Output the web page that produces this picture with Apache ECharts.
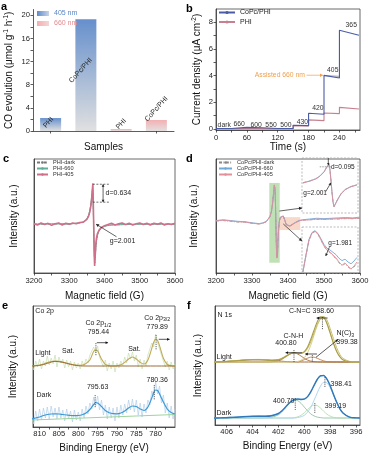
<!DOCTYPE html>
<html><head><meta charset="utf-8">
<script src="https://cdn.jsdelivr.net/npm/echarts@6.0.0/dist/echarts.min.js"></script>
<style>html,body{margin:0;padding:0;background:#fff;}#chart{width:371px;height:457px;}</style>
</head><body><div id="chart"></div>
<script>
// ===== Panel a =====
const aCategories = ['PHI-405', 'CoPc/PHI-405', 'PHI-660', 'CoPc/PHI-660'];
const aBarLabels = ['PHI', 'CoPc/PHI', 'PHI', 'CoPc/PHI'];
const aCO405 = [2.24, 19.3, null, null];
const aCO660 = [null, null, 0.35, 1.9];
const aYTicks = [0, 4, 8, 12, 16, 20];

// ===== Panel b =====
const bCoPcPHI = [[0,0.03],[30,0.03],[30,0.15],[60,0.12],[60,0.12],[90,0.09],[90,0.04],[120,0.03],[150,0.03],[150,0.28],[180,0.25],[180,1.18],[210,1.1],[210,4.02],[240,3.82],[240,7.4],[278,7.03]];
const bPHI = [[0,0.01],[30,0.01],[30,0.05],[60,0.04],[90,0.03],[120,0.02],[150,0.02],[150,0.25],[180,0.22],[180,0.68],[210,0.62],[210,1.2],[240,1.15],[240,1.62],[278,1.5]];
const bAssisted = [[210,4.0],[240,3.95]];
const bXTicks = [0, 60, 120, 180, 240];
const bYTicks = [0, 2, 4, 6, 8];
const bStepLabels = ['dark','660','600','550','500','430','420','405','365'];
const bStepLabelT = [16, 45, 78, 107, 136, 168, 198, 227, 263];
const bStepLabelY = [0.3, 0.37, 0.32, 0.26, 0.3, 0.54, 1.56, 4.44, 7.78];

// ===== Panel c =====
const cField405 = [3200,3210,3220,3230,3240,3250,3260,3270,3280,3290,3300,3310,3320,3330,3340,
  3345,3350,3355,3358,3361,3363,3365,3366,3367,3368,3369,3370,3371,3372,3373,3374,3375,3377,3380,3385,3390,3395,3400,
  3410,3420,3430,3440,3450,3460,3470,3480,3490,3500,3510,3520,3530,3540,3550,3560,3570,3580,3590,3600];
const cInt405 = [0.01,-0.02,0.03,-0.01,0.02,-0.03,0.01,0.03,-0.02,0.02,0.0,0.03,0.01,0.04,0.05,
  0.08,0.12,0.2,0.29,0.43,0.58,0.78,0.9,1.0,0.62,0.15,-0.35,-0.8,-1.03,-1.0,-0.72,-0.52,-0.35,-0.23,-0.14,-0.09,-0.06,-0.04,
  -0.01,0.02,-0.02,0.01,0.03,-0.01,0.02,-0.02,0.01,0.03,-0.01,0.02,-0.02,0.02,0.0,0.03,-0.02,0.01,-0.01,0.02];
const cField660 = [3200,3250,3300,3330,3340,3350,3355,3358,3361,3363,3365,3366,3367,3368,3369,3370,3371,3372,3373,3374,3375,3377,3380,3384,3390,3400,3420,3500,3600];
const cInt660 = [0.0,0.01,0.0,0.03,0.05,0.13,0.22,0.33,0.48,0.62,0.78,0.88,0.82,0.45,0.05,-0.35,-0.7,-0.88,-0.92,-0.8,-0.62,-0.43,-0.28,-0.17,-0.1,-0.05,-0.02,0.0,0.0];
const cIntDark = [0.0,0.0,0.01,0.03,0.05,0.12,0.21,0.31,0.45,0.6,0.76,0.86,0.85,0.5,0.08,-0.3,-0.68,-0.9,-0.95,-0.82,-0.63,-0.44,-0.29,-0.18,-0.11,-0.05,-0.02,0.0,0.0];
const epTicks = [3200, 3300, 3400, 3500, 3600];

// ===== Panel d =====
const dField = [3200,3220,3240,3260,3280,3300,3320,3330,3340,3345,3350,3354,3357,3360,3362,3363,3364,3365,3366,3367,3368,3369,3370,3371,3372,3374,3376,3379,3383,3387,3391,3395,3400,3405,3410,3420,3430,3440,3460,3480,3500,3520,3540,3560,3580,3600];
const dInt405 = [0.0,0.02,0.0,-0.02,-0.03,-0.06,-0.08,-0.06,-0.02,0.03,0.12,0.25,0.45,0.75,0.95,1.0,0.85,0.55,0.1,-0.35,-0.75,-0.98,-1.03,-0.85,-0.55,-0.2,0.0,0.1,0.14,0.13,0.02,-0.1,-0.15,-0.14,-0.1,-0.05,0.0,0.02,0.03,0.05,0.04,0.05,0.06,0.07,0.06,0.08];
const dInt660 = [0.01,0.03,0.01,-0.01,-0.02,-0.05,-0.07,-0.05,-0.01,0.04,0.12,0.25,0.45,0.74,0.94,0.99,0.84,0.55,0.1,-0.35,-0.74,-0.97,-1.02,-0.84,-0.55,-0.2,0.0,0.1,0.14,0.13,0.03,-0.09,-0.14,-0.13,-0.09,-0.04,0.01,0.03,0.05,0.07,0.06,0.07,0.08,0.09,0.08,0.1];
const dIntDark = [0.0,0.01,-0.01,-0.03,-0.03,-0.06,-0.08,-0.06,-0.02,0.03,0.11,0.24,0.44,0.73,0.93,0.98,0.83,0.53,0.1,-0.34,-0.73,-0.96,-1.01,-0.83,-0.54,-0.2,0.0,0.09,0.13,0.12,0.02,-0.1,-0.15,-0.14,-0.1,-0.05,0.0,0.02,0.03,0.04,0.04,0.05,0.05,0.06,0.06,0.07];
const dUpField = [3341,3348.6,3355,3359.3,3363.6,3366.8,3369,3370,3371,3372.1,3373.2,3374.3,3376.4,3378.6,3381.8,3386,3391.4,3399];
const dUp405 = [0.545,0.58,0.62,0.67,0.745,0.84,0.89,0.78,0.6,0.38,0.2,0.11,0.145,0.255,0.345,0.42,0.47,0.51];
const dUp660 = [0.55,0.585,0.625,0.675,0.75,0.845,0.885,0.775,0.6,0.385,0.21,0.12,0.15,0.26,0.35,0.425,0.475,0.515];
const dLoField = [3381,3384.3,3387.5,3390.7,3393.9,3397.1,3400.4,3403.6,3406.8,3410,3413.2,3416.4,3419.6,3422.9,3426.1,3429.3,3432.5,3435.7,3438.9];
const dLo405 = [0.02,0.39,0.72,0.87,0.91,0.85,0.72,0.59,0.5,0.46,0.39,0.33,0.24,0.17,0.22,0.15,0.09,0.15,0.24];
const dLo660 = [0.03,0.4,0.73,0.88,0.92,0.86,0.74,0.62,0.54,0.5,0.45,0.4,0.32,0.27,0.3,0.24,0.2,0.26,0.34];
const dLoDark = [0.02,0.38,0.7,0.86,0.9,0.84,0.71,0.58,0.49,0.44,0.37,0.31,0.22,0.16,0.2,0.13,0.08,0.13,0.2];

// ===== Panel e (Co 2p) =====
const eFitBE = [812,811,810,809,808,807,806,805,804,803,802,801,800,799,798,797,796,795.5,795,794,793,792,791,790,789,788,787,786,785,784,783,782,781,780.5,780,779.5,779,778,777,776,775];
const eLightFit = [61.2,61.5,62,63,64.5,65.5,66,65.8,65,64,63,62.2,61.8,62,63.5,67,75.8,77,76.2,67.9,62.6,61.3,61,61.2,62.2,64.6,68,70,68,64.6,63,67,78.7,84.8,88,86.5,81.4,68.7,62.5,61.2,61];
const eDarkFit = [8,9,10,11.5,12.5,13,13.2,13,12.5,12,11.5,11.3,11.5,12.3,14,17.5,22.5,24.5,24,20.5,16.5,14.2,13.3,13.2,14,16,19,21,20.5,18,16.5,20,29,34.5,37,36.5,33,25,18,14.5,13];
const eRawBE = [812,811.5,811,810.5,810,809.5,809,808.5,808,807.5,807,806.5,806,805.5,805,804.5,804,803.5,803,802.5,802,801.5,801,800.5,800,799.5,799,798.5,798,797.5,797,796.5,796,795.5,795,794.5,794,793.5,793,792.5,792,791.5,791,790.5,790,789.5,789,788.5,788,787.5,787,786.5,786,785.5,785,784.5,784,783.5,783,782.5,782,781.5,781,780.5,780,779.5,779,778.5,778,777.5,777,776.5,776,775.5,775];
const eLightRaw = [63,57,66,60,68,58,66,61,71,62, 69,63,72,60,70,64,68,59,67,60, 66,57,65,59,64,58,66,61,68,64, 72,71,80,74,81,70,72,60,67,56, 64,58,66,55,64,59,66,61,70,64, 74,68,75,66,72,60,68,58,67,61, 72,70,84,80,93,84,86,72,73,60, 66,57,65,58,63];
const eDarkRaw = [12,3,16,6,18,7,19,9,20,8, 21,10,19,8,20,9,17,6,18,8, 16,5,17,7,15,6,18,9,21,13, 24,18,30,21,31,17,27,12,22,8, 20,9,19,6,20,9,22,12,23,14, 27,17,28,15,27,12,24,10,23,14, 27,22,36,31,45,33,41,24,32,14, 24,9,21,8,18];
const eLightBg = [[812,61],[810,61.6],[808,63.6],[806,65.6],[804,64.6],[802,62.6],[800,61.3],[798,61],[775,61]];
const eDarkBg = [[812,7],[775,12.5]];
const eTicks = [810, 805, 800, 795, 790, 785, 780];

// ===== Panel f (N 1s) =====
const fBE = [407,406.5,406,405.5,405,404.5,404,403.5,403,402.5,402,401.75,401.5,401.25,401,400.75,400.5,400.25,400,399.75,399.5,399.25,399,398.75,398.5,398.25,398,397.75,397.5,397.25,397,396.5,396,395.7];
const fLightCNC = [63,63,63,63,63,63,63,63,63,63,63,63,63,63,63,63,63.6,64.8,67.3,72.2,79.9,89.7,99.4,105.8,106.5,101.1,91.7,81.7,73.5,68.1,65.1,63.2,63,63];
const fLightNC3 = [63,63,63,63,63,63,63,63,63,63,63,63,63,63,63,63,63,64.1,65.3,66.8,67.9,67.8,66.7,65.3,64.1,63.4,63.1,63,63,63,63,63,63,63];
const fLightCNH = [63,63,63,63,63,63,63,63,63,63.2,64.2,65.6,67.6,69.8,71.5,72,70.9,68.9,66.7,64.9,63.9,63.3,63.1,63,63,63,63,63,63,63,63,63,63,63];
const fLightEnv = [63,63.2,63.5,64,64.5,65,65.2,65.2,65,64.7,65.2,66.3,68.1,70.1,71.7,72,71.5,71.8,73.3,77.9,85.7,94.8,103.2,108.1,107.6,101.5,91.8,81.7,73.5,68.1,65.1,63.2,63,63];
const fLightRaw = [63.5,63.3,63.8,64.2,64.8,65.3,65.5,65.6,65.3,65,65.6,66.8,68.6,70.5,72,72.3,71.6,71.5,72.6,76.4,83.2,92,100.6,106.4,108.5,105,96.3,86.4,77.2,70.5,66.5,63.6,63.1,63];
const fLightBg = [[407,63],[406,63.5],[405,64.5],[404,65.2],[403.5,65.2],[403,65],[402,64],[401,63.2],[400,63],[395.7,63]];
const fDarkMain = [7,7,7,7,7,7,7,7,7,7,7,7,7,7,7,7,7.5,8.2,9.7,12.8,17.7,24.6,32.2,39,42.7,42.1,37.3,30,22.5,16.1,11.8,7.9,7.1,7];
const fDark399 = [7,7,7,7,7,7,7,7,7,7,7,7,7,7,7,7.4,8.2,9.7,12.2,15.4,18.4,19.9,19.4,16.9,13.7,10.8,8.8,7.7,7.2,7,7,7,7,7];
const fDark400 = [7,7,7,7,7,7,7,7,7.1,7.7,10.2,12.8,16.4,20.2,23.4,24.9,24.3,21.6,17.9,14.2,11.1,9.1,7.9,7.4,7,7,7,7,7,7,7,7,7,7];
const fDarkEnv = [7,7.1,7.3,7.6,8,8.4,8.7,8.8,8.8,9.3,11.5,13.9,17.3,20.8,23.8,25.5,26,25.5,25.8,28.4,33.2,39.6,45.5,49.3,49.4,45.9,39.1,30.7,22.7,16.1,11.8,7.9,7.1,7];
const fDarkRaw = [7.3,7.0,7.6,7.9,8.2,8.8,8.6,9.1,8.9,9.8,11.2,14.3,17.0,21.3,23.5,25.9,25.6,25.9,26.4,28.0,33.8,39.2,46.1,48.8,49.9,45.4,39.6,30.2,23.1,15.8,12.2,7.6,7.3,7.1];
const fTicks = [406, 404, 402, 400, 398, 396];

// ================= chart =================
const FONT = 'Liberation Sans, Arial, Helvetica, sans-serif';
const chart = echarts.init(document.getElementById('chart'), null, {renderer: 'canvas'});
const zip = (xs, ys) => xs.map((x, i) => [x, ys[i]]);
const AX = {color: '#333', width: 0.8};
const NAME_FS = 10;
const TICK_FS = 7.6;
const SUPSUB = {
  sup: {fontSize: 6.5, padding: [0, 0, 5, 0], fontFamily: FONT, color: '#111'},
  sub: {fontSize: 5.2, padding: [4, 0, 0, 0], fontFamily: FONT, color: '#222'}
};
const FRAME = {show: true, borderColor: '#444', borderWidth: 0.8, backgroundColor: 'transparent'};

const grids = [
  {left: 33, top: 9.5, width: 141, height: 121.5},
  Object.assign({left: 216, top: 9, width: 144, height: 121}, FRAME),
  Object.assign({left: 34, top: 159, width: 141, height: 114}, FRAME),
  Object.assign({left: 216, top: 159, width: 144, height: 114}, FRAME),
  {left: 302, top: 158, width: 56, height: 55},
  {left: 302, top: 227, width: 56, height: 46},
  Object.assign({left: 33, top: 306, width: 142, height: 121}, FRAME),
  Object.assign({left: 215, top: 306, width: 145, height: 119}, FRAME)
].map(g => Object.assign({containLabel: false, outerBoundsMode: 'none'}, g));

function nameStyle() { return {fontSize: NAME_FS, color: '#111', fontFamily: FONT, rich: SUPSUB}; }
const plain = v => String(v);
function xValue(gi, o) {
  return {
    type: 'value', gridIndex: gi, min: o.min, max: o.max, inverse: !!o.inverse,
    name: o.name, nameLocation: 'middle', nameGap: o.nameGap, nameTextStyle: nameStyle(),
    axisLine: {show: true, onZero: false, lineStyle: AX},
    axisTick: {show: true, length: 2.5, inside: false, lineStyle: AX, customValues: o.tickValues},
    minorTick: {show: false},
    axisLabel: {show: true, fontSize: TICK_FS, color: '#222', margin: o.margin || 3, fontFamily: FONT, customValues: o.labelValues, formatter: plain},
    splitLine: {show: false}
  };
}
function yBlank(gi, o) {
  return {
    type: 'value', gridIndex: gi, min: o.min, max: o.max,
    name: o.name, nameLocation: 'middle', nameGap: o.nameGap, nameTextStyle: nameStyle(),
    axisLine: {show: true, onZero: false, lineStyle: AX},
    axisTick: {show: false}, axisLabel: {show: false}, splitLine: {show: false}
  };
}
function hidden(gi, o) { return Object.assign({type: 'value', gridIndex: gi, show: false, splitLine: {show: false}}, o); }

const xAxes = [
  {type: 'category', gridIndex: 0, data: aCategories, name: 'Samples', nameLocation: 'middle', nameGap: 11,
   nameTextStyle: nameStyle(), axisLine: {show: true, lineStyle: AX},
   axisTick: {show: true, alignWithLabel: true, length: 2.5, lineStyle: AX}, axisLabel: {show: false}},
  xValue(1, {min: 0, max: 280, name: 'Time (s)', nameGap: 12, labelValues: bXTicks, tickValues: [0,30,60,90,120,150,180,210,240,270], margin: 3.5}),
  xValue(2, {min: 3200, max: 3600, name: 'Magnetic field (G)', nameGap: 18, labelValues: epTicks, tickValues: [3200,3250,3300,3350,3400,3450,3500,3550,3600], margin: 4}),
  xValue(3, {min: 3200, max: 3600, name: 'Magnetic field (G)', nameGap: 18, labelValues: epTicks, tickValues: [3200,3250,3300,3350,3400,3450,3500,3550,3600], margin: 4}),
  hidden(4, {min: 3340, max: 3400}),
  hidden(5, {min: 3380, max: 3440}),
  xValue(6, {min: 775, max: 811.7, inverse: true, name: 'Binding Energy (eV)', nameGap: 16, labelValues: eTicks, tickValues: [810,807.5,805,802.5,800,797.5,795,792.5,790,787.5,785,782.5,780,777.5], margin: 2.5}),
  xValue(7, {min: 395.7, max: 406.9, inverse: true, name: 'Binding Energy (eV)', nameGap: 16, labelValues: fTicks, tickValues: [406,405,404,403,402,401,400,399,398,397,396], margin: 3})
];
const yAxes = [
  {type: 'value', gridIndex: 0, min: 0, max: 21, name: 'CO evolution (μmol g{sup|-1} h{sup|-1})', nameLocation: 'middle', nameGap: 18,
   nameTextStyle: nameStyle(), axisLine: {show: true, lineStyle: AX},
   axisTick: {show: true, length: 2.5, lineStyle: AX, customValues: [0,2,4,6,8,10,12,14,16,18,20]},
   axisLabel: {fontSize: TICK_FS, color: '#222', margin: 3, fontFamily: FONT, customValues: aYTicks, formatter: plain}, splitLine: {show: false}},
  {type: 'value', gridIndex: 1, min: -0.08, max: 9, name: 'Current density (μA cm{sup|-2})', nameLocation: 'middle', nameGap: 13,
   nameTextStyle: nameStyle(), axisLine: {show: true, onZero: false, lineStyle: AX},
   axisTick: {show: true, length: 2.5, lineStyle: AX, customValues: [0,1,2,3,4,5,6,7,8]},
   axisLabel: {fontSize: TICK_FS, color: '#222', margin: 3, fontFamily: FONT, customValues: bYTicks, formatter: plain}, splitLine: {show: false}},
  yBlank(2, {min: -1.2, max: 1.6, name: 'Intensity (a.u.)', nameGap: 15}),
  yBlank(3, {min: -1.37, max: 1.63, name: 'Intensity (a.u.)', nameGap: 17}),
  hidden(4, {min: 0, max: 1}),
  hidden(5, {min: 0, max: 1}),
  yBlank(6, {min: 0, max: 121, name: 'Intensity (a.u.)', nameGap: 15}),
  yBlank(7, {min: 0, max: 119, name: 'Intensity (a.u.)', nameGap: 12})
];

function line(name, gi, data, color, width, extra) {
  return Object.assign({type: 'line', name, xAxisIndex: gi, yAxisIndex: gi, data, symbol: 'none', showSymbol: false,
    silent: true, lineStyle: {color, width}, itemStyle: {color}}, extra || {});
}
const gradBlue = new echarts.graphic.LinearGradient(0, 0, 0, 1, [{offset: 0, color: '#6690cc'}, {offset: 1, color: '#e0e0e0'}]);
const gradPink = new echarts.graphic.LinearGradient(0, 0, 0, 1, [{offset: 0, color: '#f3b0b2'}, {offset: 1, color: '#e4e0e0'}]);
const aLabelStyle = [
  {position: 'inside', offset: [0, -3]},
  {position: 'inside', offset: [0, -7]},
  {position: 'top', distance: 5},
  {position: 'top', distance: 11}
];
function barData(vals) {
  return vals.map((v, i) => v == null ? '-' : {value: v, label: Object.assign({show: true, formatter: aBarLabels[i], rotate: 48,
    fontSize: 7, color: '#222', fontFamily: FONT, align: 'center', verticalAlign: 'middle'}, aLabelStyle[i])});
}
const dash = [3, 1.5, 0.8, 1.5];
const series = [
  {type: 'bar', name: '405 nm', xAxisIndex: 0, yAxisIndex: 0, data: barData(aCO405), barWidth: 21, barGap: '-100%', itemStyle: {color: gradBlue}, silent: true},
  {type: 'bar', name: '660 nm', xAxisIndex: 0, yAxisIndex: 0, data: barData(aCO660), barWidth: 21, barGap: '-100%', itemStyle: {color: gradPink}, silent: true},
  line('PHI', 1, bPHI, '#c7808f', 1.1),
  line('assisted', 1, bAssisted, '#777', 0.7),
  line('CoPc/PHI', 1, bCoPcPHI, '#4a5ca6', 1.1),
  line('PHI-dark', 2, zip(cField660, cIntDark), '#777', 0.8, {lineStyle: {color: '#777', width: 0.8, type: dash}}),
  line('PHI-660', 2, zip(cField660, cInt660), '#5fae99', 1),
  line('PHI-405', 2, zip(cField405, cInt405), '#cf6f89', 1.6),
  line('CoPc/PHI-dark', 3, zip(dField, dIntDark), '#888', 0.8, {lineStyle: {color: '#888', width: 0.8, type: dash},
    markArea: {silent: true, data: [
      [{xAxis: 3348, yAxis: 1.0, itemStyle: {color: 'rgba(140,200,120,0.55)'}}, {xAxis: 3377, yAxis: -1.1}],
      [{xAxis: 3376, yAxis: 0.1, itemStyle: {color: 'rgba(242,190,165,0.6)'}}, {xAxis: 3434, yAxis: -0.24}]
    ]}}),
  line('CoPc/PHI-660', 3, zip(dField, dInt660), '#6fa9dc', 0.9),
  line('CoPc/PHI-405', 3, zip(dField, dInt405), '#e2909a', 0.9),
  line('up-dark', 4, zip(dUpField, dUp660), '#999', 0.8, {lineStyle: {color: '#999', width: 0.8, type: dash}}),
  line('up-660', 4, zip(dUpField, dUp660), '#8ab8e0', 0.8),
  line('up-405', 4, zip(dUpField, dUp405), '#d98c96', 0.9),
  line('lo-dark', 5, zip(dLoField, dLoDark), '#999', 0.8, {lineStyle: {color: '#999', width: 0.8, type: dash}}),
  line('lo-660', 5, zip(dLoField, dLo660), '#6fa9dc', 0.9),
  line('lo-405', 5, zip(dLoField, dLo405), '#e2909a', 0.9),
  line('e-light-raw', 6, zip(eRawBE, eLightRaw), '#c6dfb0', 0.7),
  line('e-light-fit', 6, zip(eFitBE, eLightFit), '#c2a956', 1.1, {smooth: 0.3}),
  line('e-light-bg', 6, eLightBg, '#9c6a3a', 1, {smooth: 0.4}),
  line('e-dark-raw', 6, zip(eRawBE, eDarkRaw), '#b3cfe9', 0.7),
  line('e-dark-bg', 6, eDarkBg, '#9fd39c', 1),
  line('e-dark-fit', 6, zip(eFitBE, eDarkFit), '#3a9ad6', 1.2, {smooth: 0.3}),
  line('f-light-bg', 7, fLightBg, '#9c6a3a', 1, {smooth: 0.4}),
  line('f-light-cnh', 7, zip(fBE, fLightCNH), '#a8743f', 0.9, {smooth: 0.3}),
  line('f-light-nc3', 7, zip(fBE, fLightNC3), '#b98450', 0.9, {smooth: 0.3}),
  line('f-light-cnc', 7, zip(fBE, fLightCNC), '#d6d08a', 1, {smooth: 0.3}),
  line('f-light-raw', 7, zip(fBE, fLightRaw), '#c8be6a', 1, {smooth: 0.3}),
  line('f-light-env', 7, zip(fBE, fLightEnv), '#a99e48', 1.1, {smooth: 0.3}),
  line('f-dark-400', 7, zip(fBE, fDark400), '#8fc4a2', 0.9, {smooth: 0.3}),
  line('f-dark-399', 7, zip(fBE, fDark399), '#b5dcb0', 0.9, {smooth: 0.3}),
  line('f-dark-main', 7, zip(fBE, fDarkMain), '#a6d2ee', 0.9, {smooth: 0.3}),
  line('f-dark-raw', 7, zip(fBE, fDarkRaw), '#7fb5de', 0.9, {smooth: 0.3}),
  line('f-dark-env', 7, zip(fBE, fDarkEnv), '#2f78ba', 1.4, {smooth: 0.3})
];

const legendText = {fontSize: 7, color: '#222', fontFamily: FONT};
const smallLegend = {fontSize: 5.6, lineHeight: 5.2, color: '#333', fontFamily: FONT};
const legends = [
  {left: 37, top: 10, orient: 'vertical', itemWidth: 12, itemHeight: 5, itemGap: 3, padding: 0, selectedMode: false, icon: 'rect',
   data: [
     {name: '405 nm', textStyle: {color: '#5b86c6', fontSize: 7, fontFamily: FONT},
      itemStyle: {color: new echarts.graphic.LinearGradient(0, 0, 1, 0, [{offset: 0, color: '#5f8bcb'}, {offset: 1, color: '#c8d4e6'}])}},
     {name: '660 nm', textStyle: {color: '#e58a8e', fontSize: 7, fontFamily: FONT},
      itemStyle: {color: new echarts.graphic.LinearGradient(0, 0, 1, 0, [{offset: 0, color: '#f3aeb0'}, {offset: 1, color: '#f3d6d6'}])}}
   ]},
  {left: 218, top: 9, orient: 'vertical', itemWidth: 16, itemHeight: 4, itemGap: 2.5, padding: 0, selectedMode: false,
   data: ['CoPc/PHI', 'PHI'], textStyle: legendText},
  {left: 36, top: 159.5, orient: 'vertical', itemWidth: 11, itemHeight: 3, itemGap: 0, padding: 0, selectedMode: false,
   data: ['PHI-dark', 'PHI-660', 'PHI-405'], textStyle: smallLegend},
  {left: 218, top: 159.5, orient: 'vertical', itemWidth: 13, itemHeight: 3, itemGap: 0, padding: 0, selectedMode: false,
   data: ['CoPc/PHI-dark', 'CoPc/PHI-660', 'CoPc/PHI-405'], textStyle: smallLegend}
];

chart.setOption({
  animation: false,
  backgroundColor: '#fff',
  textStyle: {fontFamily: FONT},
  grid: grids, xAxis: xAxes, yAxis: yAxes, legend: legends, series: series
});

// ---------- annotations placed in data coordinates ----------
const gfx = [];
const ANN_FS = 7;
function P(g, x, y) { return chart.convertToPixel({gridIndex: g}, [x, y]); }
function txt(g, x, y, text, o) {
  const p = P(g, x, y);
  gfx.push({type: 'text', x: p[0], y: p[1], silent: true, z: 50,
    style: Object.assign({text, fontSize: ANN_FS, fontFamily: FONT, fill: '#222', align: 'center', verticalAlign: 'middle', rich: SUPSUB}, o || {})});
}
function seg(p1, p2, color, w, dashArr) {
  gfx.push({type: 'line', silent: true, z: 50, shape: {x1: p1[0], y1: p1[1], x2: p2[0], y2: p2[1]},
    style: {stroke: color, lineWidth: w || 0.7, lineDash: dashArr || null}});
}
function head(p1, p2, color, s) {
  const dx = p2[0] - p1[0], dy = p2[1] - p1[1], L = Math.hypot(dx, dy) || 1, ux = dx / L, uy = dy / L;
  s = s || 3; const w = s * 0.55; const bx = p2[0] - ux * s, by = p2[1] - uy * s;
  gfx.push({type: 'polygon', silent: true, z: 51, shape: {points: [[p2[0], p2[1]], [bx - uy * w, by + ux * w], [bx + uy * w, by - ux * w]]}, style: {fill: color}});
}
function arrow(g, x1, y1, x2, y2, color, both, s) {
  const p1 = P(g, x1, y1), p2 = P(g, x2, y2);
  seg(p1, p2, color || '#111', 0.7); head(p1, p2, color || '#111', s); if (both) head(p2, p1, color || '#111', s);
}
function dline(g, x1, y1, x2, y2, color, dashArr) { seg(P(g, x1, y1), P(g, x2, y2), color || '#222', 0.7, dashArr || [1.2, 1]); }

// b
bStepLabels.forEach((t, i) => txt(1, bStepLabelT[i], bStepLabelY[i], t, {fontSize: 6.8, fill: '#333'}));
txt(1, 173, 4.05, 'Assisted 660 nm', {align: 'right', fill: '#f0a04c', fontSize: 6.8});
arrow(1, 176, 4.03, 208, 4.03, '#f0a04c');
// c
dline(2, 3367, 0.98, 3416, 0.98, '#333', [2, 1.5]);
dline(2, 3367, 0.54, 3416, 0.54, '#333', [2, 1.5]);
arrow(2, 3396, 0.76, 3396, 0.98, '#222', false, 2.5);
arrow(2, 3396, 0.76, 3396, 0.54, '#222', false, 2.5);
txt(2, 3403, 0.76, 'd=0.634', {align: 'left'});
txt(2, 3415, -0.42, 'g=2.001', {align: 'left'});
arrow(2, 3434, -0.31, 3376, 0.0, '#222');
// d
arrow(3, 3376, 0.26, 3439, 0.34, '#222');
arrow(3, 3387, -0.08, 3439, -0.53, '#222');
dline(4, 3359, 0.84, 3371, 0.84, '#777', [1.5, 1]);
arrow(4, 3368.2, 1.0, 3368.2, 0.87, '#222', false, 2.2);
txt(4, 3371, 0.84, 'd=0.095', {align: 'left', fontSize: 6.5});
txt(4, 3341.4, 0.36, 'g=2.001', {align: 'left', fontSize: 6.5});
arrow(4, 3365.4, 0.39, 3371, 0.55, '#222', false, 2.5);
txt(5, 3408.2, 0.65, 'g=1.981', {align: 'left', fontSize: 6.5});
arrow(5, 3409.3, 0.56, 3405.4, 0.37, '#222', false, 2.5);
// e
txt(6, 811.1, 116.3, 'Co 2p', {align: 'left'});
txt(6, 811.1, 74.3, 'Light', {align: 'left'});
txt(6, 810.8, 32, 'Dark', {align: 'left'});
txt(6, 802.6, 76.3, 'Sat.');
txt(6, 785.5, 78, 'Sat.');
txt(6, 794.8, 103.5, 'Co 2p{sub|1/2}');
txt(6, 794.8, 94.7, '795.44');
txt(6, 779.6, 109.2, 'Co 2p{sub|3/2}');
txt(6, 779.6, 99.7, '779.89');
txt(6, 795.0, 39.7, '795.63');
txt(6, 779.6, 47, '780.36');
arrow(6, 795.2, 84.3, 792.3, 84.3, '#111', false, 2.5);
arrow(6, 779.2, 87.7, 776.4, 87.7, '#111', false, 2.5);
dline(6, 795.44, 84, 795.44, 71);
dline(6, 779.89, 92, 779.89, 77);
dline(6, 795.63, 32, 795.63, 19);
dline(6, 780.36, 42, 780.36, 27);
// f
txt(7, 406.7, 110, 'N 1s', {align: 'left'});
txt(7, 399.45, 114, 'C-N=C 398.60');
txt(7, 400.84, 89, 'C-N-H');
txt(7, 401.42, 81.7, '400.80');
txt(7, 396.83, 91.7, 'N(C){sub|3}');
txt(7, 396.7, 83.3, '399.38');
txt(7, 406.78, 67.7, 'Light', {align: 'left'});
txt(7, 397.15, 40.7, '398.41');
txt(7, 401.6, 24.3, '400.70');
txt(7, 397.6, 19, '399.19');
txt(7, 406.78, 12.3, 'Dark', {align: 'left'});
arrow(7, 398.2, 107, 399.05, 107, '#111', false, 2.5);
arrow(7, 400.19, 72.3, 401.45, 72.3, '#111', false, 2.5);
arrow(7, 399.02, 71, 399.93, 71, '#111', false, 2.5);
arrow(7, 399.1, 67.7, 397.4, 85.5, '#111', false, 2.5);
dline(7, 400.8, 75, 400.8, 63);
dline(7, 399.38, 70, 399.38, 63);
dline(7, 398.6, 108, 398.6, 95);
dline(7, 398.41, 48, 398.41, 37);
dline(7, 400.7, 27, 400.7, 15);
dline(7, 399.19, 22, 399.19, 12);

// inset frames (layout, from grid boxes)
[grids[4], grids[5]].forEach(g => gfx.push({type: 'rect', silent: true, z: 40,
  shape: {x: g.left, y: g.top, width: g.width, height: g.height},
  style: {fill: 'none', stroke: '#aaa', lineWidth: 0.8, lineDash: [2, 1.5]}}));
// panel letters
[['a', 1, 1], ['b', 186, 3], ['c', 3, 153], ['d', 186, 153], ['e', 2, 300], ['f', 187, 300]].forEach(l =>
  gfx.push({type: 'text', x: l[1], y: l[2], silent: true, z: 60,
    style: {text: l[0], fontSize: 11, fontWeight: 'bold', fontFamily: FONT, fill: '#000', align: 'left', verticalAlign: 'top'}}));

chart.setOption({graphic: gfx});
</script></body></html>
